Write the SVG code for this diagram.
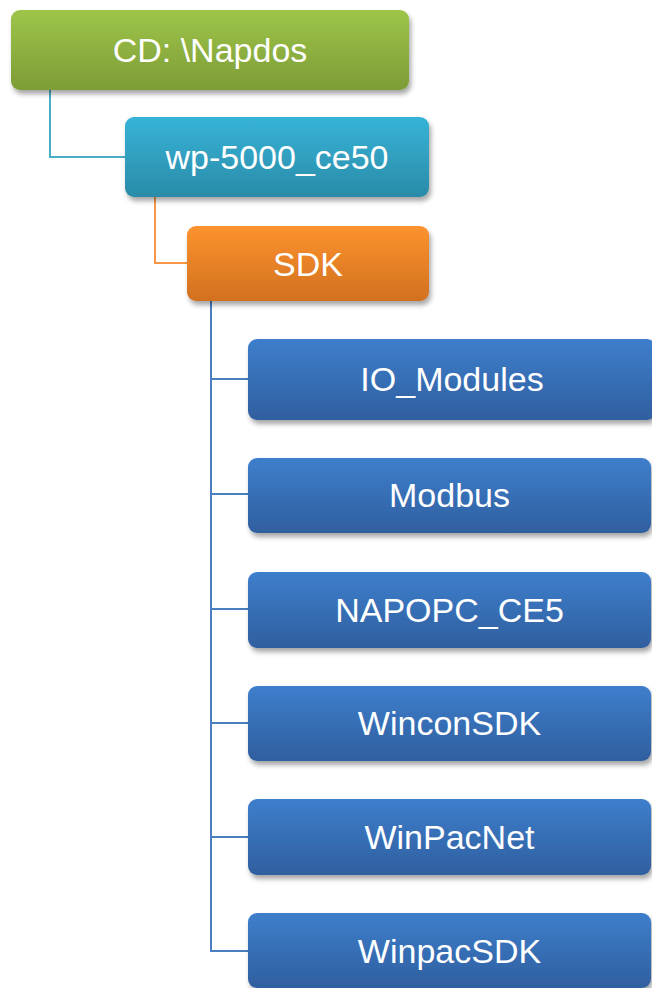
<svg xmlns="http://www.w3.org/2000/svg" width="652" height="988" viewBox="0 0 652 988">
<defs>
<linearGradient id="gGreen" x1="0" y1="0" x2="0" y2="1"><stop offset="0" stop-color="#9ec54a"/><stop offset="1" stop-color="#7d9c36"/></linearGradient>
<linearGradient id="gTeal" x1="0" y1="0" x2="0" y2="1"><stop offset="0" stop-color="#37b3d8"/><stop offset="1" stop-color="#2a8ba8"/></linearGradient>
<linearGradient id="gOrange" x1="0" y1="0" x2="0" y2="1"><stop offset="0" stop-color="#fc932e"/><stop offset="1" stop-color="#d2701f"/></linearGradient>
<linearGradient id="gBlue" x1="0" y1="0" x2="0" y2="1"><stop offset="0" stop-color="#3e7ecc"/><stop offset="1" stop-color="#2f5f9f"/></linearGradient>
<filter id="sh" x="-10%" y="-20%" width="120%" height="150%"><feDropShadow dx="2" dy="4" stdDeviation="2.5" flood-color="#000" flood-opacity="0.35"/></filter>
</defs>
<style>
.box{filter:url(#sh);}
.t{font-family:"Liberation Sans",Arial,sans-serif;font-size:34px;fill:#fff;text-anchor:middle;}
.c{fill:none;stroke-width:2;}
</style>
<rect width="652" height="988" fill="#fff"/>
<g id="connectors">
<path class="c" stroke="#4bacc6" d="M50,90 V157 H125"/>
<path class="c" stroke="#f79646" d="M155,197 V263 H187"/>
<path class="c" stroke="#4a7ebf" d="M211,301 V951 H248 M211,379 H248 M211,494 H248 M211,609 H248 M211,723 H248 M211,837 H248"/>
</g>
<g id="n-cd"><rect class="box" x="11" y="10" width="398" height="80" rx="9" fill="url(#gGreen)"/><text class="t" x="210" y="62">CD: \Napdos</text></g>
<g id="n-wp"><rect class="box" x="125" y="117" width="304" height="80" rx="9" fill="url(#gTeal)"/><text class="t" x="277" y="169">wp-5000_ce50</text></g>
<g id="n-sdk"><rect class="box" x="187" y="226" width="242" height="75" rx="9" fill="url(#gOrange)"/><text class="t" x="308" y="276">SDK</text></g>
<g id="n-io"><rect class="box" x="248" y="339" width="408" height="81" rx="9" fill="url(#gBlue)"/><text class="t" x="452" y="391">IO_Modules</text></g>
<g id="n-modbus"><rect class="box" x="248" y="458" width="403" height="75" rx="9" fill="url(#gBlue)"/><text class="t" x="449.5" y="507">Modbus</text></g>
<g id="n-napopc"><rect class="box" x="248" y="572" width="403" height="76" rx="9" fill="url(#gBlue)"/><text class="t" x="449.5" y="622">NAPOPC_CE5</text></g>
<g id="n-wincon"><rect class="box" x="248" y="686" width="403" height="75" rx="9" fill="url(#gBlue)"/><text class="t" x="449.5" y="735">WinconSDK</text></g>
<g id="n-winpacnet"><rect class="box" x="248" y="799" width="403" height="76" rx="9" fill="url(#gBlue)"/><text class="t" x="449.5" y="849">WinPacNet</text></g>
<g id="n-winpacsdk"><rect class="box" x="248" y="913" width="403" height="75" rx="9" fill="url(#gBlue)"/><text class="t" x="449.5" y="963">WinpacSDK</text></g>
</svg>
